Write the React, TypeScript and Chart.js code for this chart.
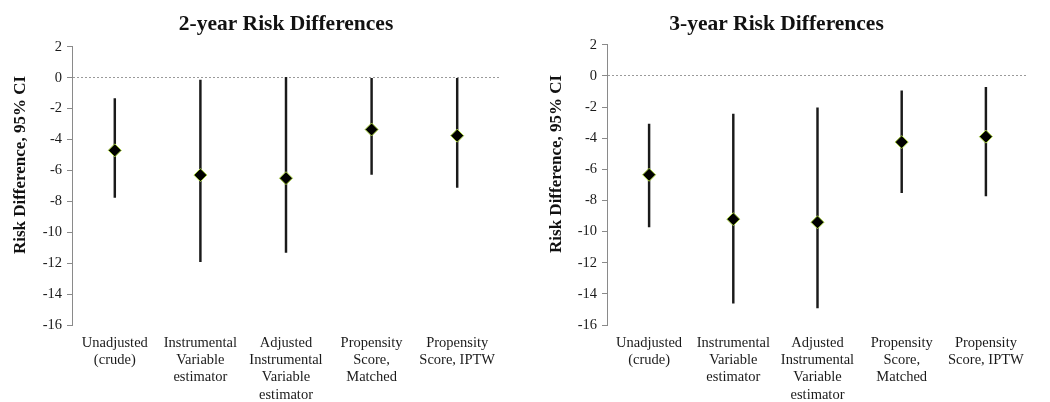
import React, { useEffect, useRef } from 'react';
import { Chart, registerables } from 'chart.js';

Chart.register(...registerables);

const categories: string[][] = [
  ['Unadjusted', '(crude)'],
  ['Instrumental', 'Variable', 'estimator'],
  ['Adjusted', 'Instrumental', 'Variable', 'estimator'],
  ['Propensity', 'Score,', 'Matched'],
  ['Propensity', 'Score, IPTW'],
];

const yMin = -16;
const yMax = 2;
const yStep = 2;

const rd2Point = [-4.7, -6.3, -6.5, -3.35, -3.75];
const rd2Lower = [-7.75, -11.9, -11.3, -6.25, -7.1];
const rd2Upper = [-1.35, -0.15, 0.02, 0.0, 0.0];

const rd3Point = [-6.35, -9.2, -9.4, -4.25, -3.9];
const rd3Lower = [-9.7, -14.6, -14.9, -7.5, -7.7];
const rd3Upper = [-3.1, -2.45, -2.05, -0.95, -0.73];

const title2 = '2-year Risk Differences';
const title3 = '3-year Risk Differences';
const yTitle = 'Risk Difference, 95% CI';

const SERIF = "'Liberation Serif', 'Times New Roman', serif";

type Props = {
  title: string;
  points: number[];
  lower: number[];
  upper: number[];
  axisWidth: number;
  padRight: number;
  titleFullSize: boolean;
  titlePadBottom: number;
  yTitleX: number;
};

function RiskChart(p: Props) {
  const ref = useRef<HTMLCanvasElement | null>(null);
  useEffect(() => {
    if (!ref.current) return;
    const yTitlePlugin = {
      id: 'yTitlePlugin',
      afterDraw(chart: any) {
        const { ctx, chartArea } = chart;
        const cy = chartArea.top + (chartArea.bottom - chartArea.top) * 0.425;
        ctx.save();
        ctx.translate(p.yTitleX, cy);
        ctx.rotate(-Math.PI / 2);
        ctx.font = `bold 17px ${SERIF}`;
        ctx.fillStyle = '#111';
        ctx.textAlign = 'center';
        ctx.textBaseline = 'middle';
        ctx.fillText(yTitle, 0, 0);
        ctx.restore();
      },
    };
    const chart = new Chart(ref.current, {
      type: 'bar',
      data: {
        labels: categories as any,
        datasets: [
          {
            type: 'line',
            label: 'Estimate',
            data: p.points,
            showLine: false,
            pointStyle: 'rectRot',
            pointRadius: 6.5,
            pointBackgroundColor: '#000',
            pointBorderColor: '#a8d040',
            pointBorderWidth: 1,
            order: 0,
          } as any,
          {
            type: 'bar',
            label: '95% CI',
            data: p.lower.map((l, i) => [l, p.upper[i]]),
            backgroundColor: '#1a1a1a',
            barThickness: 1.8,
            borderWidth: 0,
            order: 1,
          } as any,
        ],
      },
      options: {
        animation: false,
        responsive: false,
        events: [],
        layout: { padding: { left: 0, right: p.padRight, top: 0, bottom: 0 } },
        plugins: {
          legend: { display: false },
          tooltip: { enabled: false },
          title: {
            display: true,
            text: p.title,
            fullSize: p.titleFullSize,
            color: '#111',
            font: { family: SERIF, size: 21.5, weight: 'bold' },
            padding: { top: 12, bottom: p.titlePadBottom },
          },
        },
        scales: {
          x: {
            type: 'category',
            offset: true,
            grid: { display: false },
            border: { display: false },
            ticks: {
              color: '#1a1a1a',
              font: { family: SERIF, size: 14.5 },
              padding: 1,
              maxRotation: 0,
              minRotation: 0,
              autoSkip: false,
            },
            afterFit: (s: any) => {
              s.height = 77;
            },
          },
          y: {
            min: yMin,
            max: yMax,
            ticks: {
              stepSize: yStep,
              color: '#1a1a1a',
              font: { family: SERIF, size: 14.5 },
              padding: 5,
            },
            grid: {
              color: (c: any) => (c.tick && c.tick.value === 0 ? '#9a9a9a' : 'rgba(0,0,0,0)'),
              tickColor: '#8a8a8a',
              tickLength: 5,
              lineWidth: 1,
            },
            border: { display: true, color: '#8a8a8a', width: 1, dash: [2, 2] },
            afterFit: (s: any) => {
              s.width = p.axisWidth;
            },
          },
        },
      } as any,
      plugins: [yTitlePlugin],
    });
    return () => chart.destroy();
  }, []);
  return <canvas ref={ref} width={525} height={402} style={{ width: 525, height: 402, display: 'block' }} />;
}

export default function App() {
  return (
    <div style={{ position: 'absolute', left: 0, top: 0, width: 1050, height: 402, background: '#fff' }}>
      <div style={{ position: 'absolute', left: 0, top: 0, width: 525, height: 402 }}>
        <RiskChart
          title={title2}
          points={rd2Point}
          lower={rd2Lower}
          upper={rd2Upper}
          axisWidth={72}
          padRight={25}
          titleFullSize={false}
          titlePadBottom={9}
          yTitleX={21}
        />
      </div>
      <div style={{ position: 'absolute', left: 525, top: 0, width: 525, height: 402 }}>
        <RiskChart
          title={title3}
          points={rd3Point}
          lower={rd3Lower}
          upper={rd3Upper}
          axisWidth={82}
          padRight={22}
          titleFullSize={true}
          titlePadBottom={7}
          yTitleX={32}
        />
      </div>
    </div>
  );
}
